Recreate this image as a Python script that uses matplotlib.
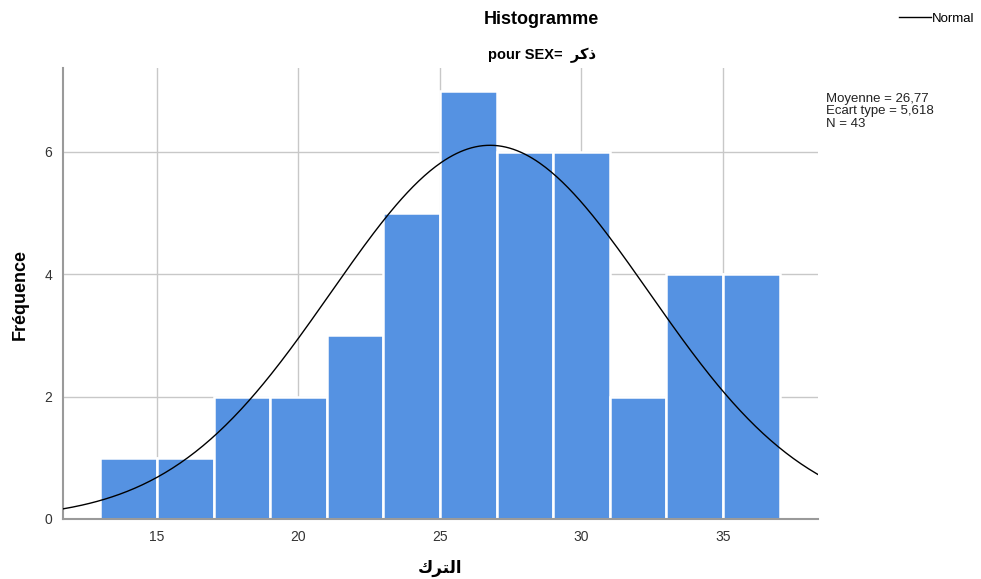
import numpy as np
import matplotlib
matplotlib.use("Agg")
import matplotlib.pyplot as plt

plt.rcParams.update({"font.family": ["Liberation Sans", "DejaVu Sans"], "font.size": 10})

# histogram of the variable for SEX = male, bin width 2
bin_edges = [13, 15, 17, 19, 21, 23, 25, 27, 29, 31, 33, 35, 37]
counts = [1, 1, 2, 2, 3, 5, 7, 6, 6, 2, 4, 4]
mean, sd, n = 26.77, 5.618, 43
xticks = [15, 20, 25, 30, 35]
yticks = [0, 2, 4, 6]

# Arabic in presentation forms, visual order (matplotlib does no shaping)
xlabel_ar = "\uFED9\uFEAE\uFE98\uFEDF\uFE8D"   # الترك
sex_ar = "\uFEAE\uFEDB\uFEAB"                  # ذكر

fig = plt.figure(figsize=(9.81, 5.79), dpi=100)
ax = fig.add_axes([63 / 981, 60 / 579, 755 / 981, 451 / 579])

widths = np.diff(bin_edges)
ax.bar(bin_edges[:-1], counts, width=widths, align="edge", color="#5592e2",
       edgecolor="white", linewidth=1.8, zorder=2)

xs = np.linspace(11.68, 38.36, 400)
bw = widths[0]
ys = n * bw / (sd * np.sqrt(2 * np.pi)) * np.exp(-0.5 * ((xs - mean) / sd) ** 2)
line, = ax.plot(xs, ys, color="black", lw=1.0, zorder=3)

ax.set_xlim(11.68, 38.36)
ax.set_ylim(0, 7.37)
ax.set_xticks(xticks)
ax.set_yticks(yticks)
ax.grid(True, color="#c8c8c8", lw=1.0, zorder=0)
ax.set_axisbelow(True)
for s in ("top", "right"):
    ax.spines[s].set_visible(False)
for s in ("left", "bottom"):
    ax.spines[s].set_color("#9a9a9a")
    ax.spines[s].set_linewidth(1.5)
ax.tick_params(length=0, labelsize=10, labelcolor="#333333", pad=8)

# axis titles placed in figure coordinates
fig.text(20 / 981, 1 - 294 / 579, "Fréquence", rotation=90, ha="center",
         va="center", fontsize=13, fontweight="bold")
fig.text(440 / 981, 1 - 568 / 579, xlabel_ar, ha="center", va="center",
         fontsize=12, fontweight="bold", family=["DejaVu Sans"])

fig.text(541 / 981, 1 - 20 / 579, "Histogramme", ha="center", va="center",
         fontsize=13, fontweight="bold")
fig.text(542 / 981, 1 - 55 / 579, "pour SEX=  " + sex_ar, ha="center",
         va="center", fontsize=10.5, fontweight="bold")

fig.text(826 / 981, 1 - 93 / 579,
         f"Moyenne = {mean:.2f}\nEcart type = {sd:.3f}\nN = {n}".replace(".", ","),
         ha="left", va="top", fontsize=9.5, linespacing=1.05, color="#222222")

fig.legend([line], ["Normal"], loc="upper right", bbox_to_anchor=(1.0, 0.99),
           frameon=False, fontsize=9.5, handlelength=2.4, handletextpad=0.1,
           borderaxespad=0.1)

fig.savefig("out.png", dpi=100)
